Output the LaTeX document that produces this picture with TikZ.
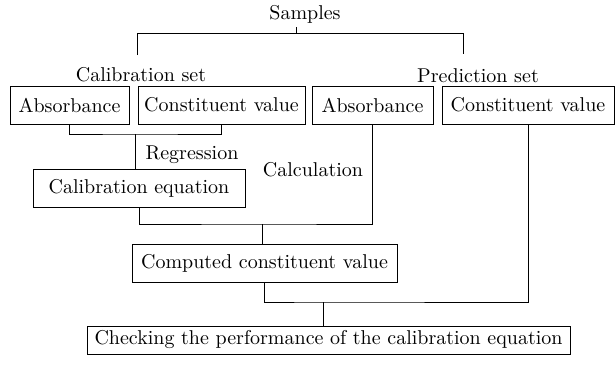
\documentclass[tikz,border=0pt]{standalone}
\usepackage{tikz}
\usetikzlibrary{positioning}
\tikzset{
    stage/.style={
           rectangle,
           draw=black,
           line width=0.5pt,
           minimum height=19pt,
           inner sep=2pt,
           text centered,
           },
    lbl/.style={inner sep=1pt},
}

\begin{document}
\begin{tikzpicture}[x=0.5pt,y=-0.5pt,line width=0.5pt]
\useasboundingbox (0,0) rectangle (615,364);
\node[lbl](samples) at (305,14){Samples};
\node[lbl](calset) at (141,75){Calibration set};
\node[lbl](predset) at (478,76){Prediction set};
\node[stage,minimum width=59.5pt](absA) at (69.5,105){Absorbance};
\node[stage,minimum width=83.5pt](conA) at (221.5,105){Constituent value};
\node[stage,minimum width=60.5pt](absB) at (372.5,105){Absorbance};
\node[stage,minimum width=86pt](conB) at (528,105){Constituent value};
\node[lbl](regression) at (192,155){Regression};
\node[lbl](calculation) at (313,170){Calculation};
\node[stage,minimum width=106pt](caleq) at (139,188){Calibration equation};
\node[stage,minimum width=132.5pt](computed) at (264.5,263){Computed constituent value};
\node[stage,minimum width=241.5pt,minimum height=14pt](check) at (328.5,340){Checking the performance of the calibration equation};
% joints
\coordinate (top) at (296,33);
\coordinate (j1) at (135,134);
\coordinate (j2) at (262,224);
\coordinate (j3) at (323,302);
\draw (top) -- ++(0,-6);
\draw (137,55) -- (137,33) -- (463,33) -- (463,54);
\draw (absA.south) |- (j1) -| (conA.south);
\draw (j1) -- (j1 |- caleq.north);
\draw (caleq.south) |- (j2) -| (absB.south);
\draw (j2) -- (j2 |- computed.north);
\draw (computed.south) |- (j3) -| (conB.south);
\draw (j3) -- (j3 |- check.north);
\end{tikzpicture}
\end{document}
